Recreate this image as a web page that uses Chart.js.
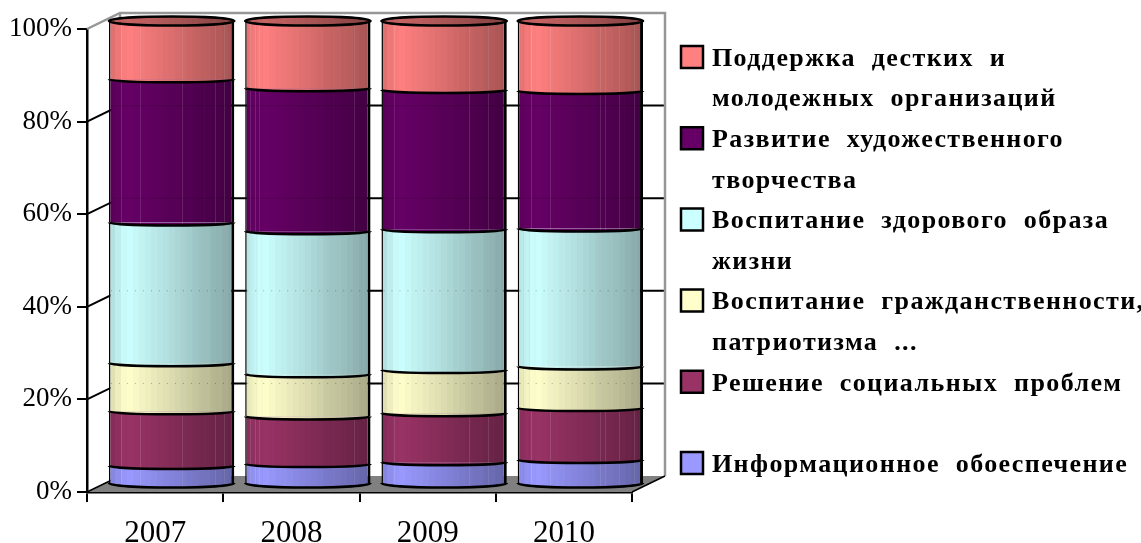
<!DOCTYPE html>
<html>
<head>
<meta charset="utf-8">
<style>
  html, body { margin: 0; padding: 0; background: #fff; }
  canvas { display: block; }
</style>
<script src="https://cdn.jsdelivr.net/npm/chart.js@4"></script>
</head>
<body>
<canvas id="grafico" width="1141" height="543"></canvas>
<script>
const years = ["2007", "2008", "2009", "2010"];
const yTicks = [0, 20, 40, 60, 80, 100];

// bottom to top of the stack
const info = [3.9, 4.3, 4.7, 5.2];
const social = [11.8, 10.3, 10.6, 11.2];
const civic = [10.4, 9.1, 9.3, 9.0];
const health = [30.4, 30.9, 30.4, 29.8];
const art = [30.9, 30.9, 30.1, 29.7];
const support = [12.6, 14.5, 14.9, 15.1];

const seriesValues = [info, social, civic, health, art, support];
const seriesColors = ["#9999FF", "#993366", "#FFFFCC", "#CCFFFF", "#660066", "#FF8080"];

// top to bottom, as in the legend
const legendLines = [
  ["Поддержка дестких и", "молодежных организаций"],
  ["Развитие художественного", "творчества"],
  ["Воспитание здорового образа", "жизни"],
  ["Воспитание гражданственности,", "патриотизма ..."],
  ["Решение социальных проблем"],
  ["Информационное обоеспечение"]
];
const legendColors = ["#FF8080", "#660066", "#CCFFFF", "#FFFFCC", "#993366", "#9999FF"];

const depthX = 33, depthY = -16;          // back wall offset
const barX = 16.5, barY = -8;             // cylinders stand half way back
// thin light lines on the cylinder sides
const stripesOdd = [0.10, 0.25, 0.585, 0.70, 0.76, 0.85, 0.92];
const stripesEven = [0.04, 0.08, 0.11, 0.26, 0.66, 0.70, 0.81, 0.87, 0.93];

function rgb(hex) {
  return [1, 3, 5].map(i => parseInt(hex.substr(i, 2), 16));
}
function tint(hex, k, white) {
  const c = rgb(hex).map(v => Math.round(Math.min(255, v * k + (white || 0) * (255 - v))));
  return "rgb(" + c.join(",") + ")";
}
function shadeAt(t) {
  if (t < 0.12) return 0.88 + t;
  return 1 - (t - 0.12) * 0.4;
}

function cylinderFill(chart, index, hex, extra) {
  const xs = chart.scales.x;
  const w = xs.width / years.length * 0.92;
  const cx = xs.getPixelForValue(index);
  // the options are also resolved once before the layout is done
  if (!isFinite(cx) || !isFinite(w)) return hex;
  const g = chart.ctx.createLinearGradient(cx - w / 2, 0, cx + w / 2, 0);
  for (let i = 0; i <= 20; i++) {
    const a = i / 21, b = (i + 1) / 21;
    const col = tint(hex, shadeAt(a) * (extra || 1));
    g.addColorStop(a, col);
    g.addColorStop(b - 0.001, col);
  }
  if (!extra) {
    (index % 2 ? stripesEven : stripesOdd).forEach(f => {
      const base = tint(hex, shadeAt(f));
      const col = tint(hex, shadeAt(f), 0.13);
      g.addColorStop(f - 0.0005, base);
      g.addColorStop(f, col);
      g.addColorStop(f + 0.004, col);
      g.addColorStop(f + 0.0045, base);
    });
  }
  return g;
}

const backWall = {
  id: "backWall",
  beforeDatasetsDraw(chart) {
    const { ctx, chartArea: a, scales } = chart;
    const yb = a.bottom + depthY, yt = a.top + depthY;
    ctx.save();
    // floor
    ctx.fillStyle = "#808080";
    ctx.beginPath();
    ctx.moveTo(a.left, a.bottom);
    ctx.lineTo(a.left + depthX, yb);
    ctx.lineTo(a.right + depthX, yb);
    ctx.lineTo(a.right, a.bottom);
    ctx.closePath();
    ctx.fill();
    // grid lines on the wall and the side wall
    ctx.strokeStyle = "#000";
    ctx.lineWidth = 2;
    yTicks.forEach(t => {
      if (t === 0 || t === 100) return;
      const y = scales.y.getPixelForValue(t);
      ctx.beginPath();
      ctx.moveTo(a.left, y);
      ctx.lineTo(a.left + depthX, y + depthY);
      ctx.lineTo(a.right + depthX, y + depthY);
      ctx.stroke();
    });
    // wall frame
    ctx.strokeStyle = "#969696";
    ctx.lineWidth = 2.5;
    ctx.beginPath();
    ctx.moveTo(a.left, a.top);
    ctx.lineTo(a.left + depthX, yt);
    ctx.lineTo(a.right + depthX, yt);
    ctx.lineTo(a.right + depthX, yb);
    ctx.moveTo(a.left + depthX, yt);
    ctx.lineTo(a.left + depthX, yb);
    ctx.stroke();
    ctx.strokeStyle = "#000";
    ctx.lineWidth = 1.5;
    ctx.beginPath();
    ctx.moveTo(a.left, a.bottom);
    ctx.lineTo(a.left + depthX, yb);
    ctx.moveTo(a.right, a.bottom);
    ctx.lineTo(a.right + depthX, yb);
    ctx.stroke();
    ctx.restore();
    // the bars are drawn by the library, just moved back
    ctx.save();
    ctx.translate(barX, barY);
  },
  afterDatasetsDraw(chart) {
    const ctx = chart.ctx;
    years.forEach((y, i) => {
      seriesValues.forEach((vals, s) => {
        const bar = chart.getDatasetMeta(s).data[i];
        const hw = bar.width / 2;
        // lower rim bulges over the segment below
        ctx.beginPath();
        ctx.ellipse(bar.x, bar.base, hw, s === 0 ? 4.5 : 3, 0, 0, Math.PI);
        ctx.fillStyle = bar.options.backgroundColor;
        ctx.fill();
        ctx.lineWidth = 2.5;
        ctx.strokeStyle = "#000";
        ctx.stroke();
      });
      const top = chart.getDatasetMeta(seriesValues.length - 1).data[i];
      ctx.beginPath();
      ctx.ellipse(top.x, top.y, top.width / 2, 4.5, 0, 0, Math.PI * 2);
      ctx.fillStyle = cylinderFill(chart, i, seriesColors[5], 0.78);
      ctx.fill();
      ctx.lineWidth = 2.5;
      ctx.strokeStyle = "#000";
      ctx.stroke();
      // the back grid shows faintly through the cylinders
      yTicks.forEach(t => {
        if (t === 0 || t === 100) return;
        const gy = chart.scales.y.getPixelForValue(t) + depthY - barY;
        ctx.beginPath();
        ctx.moveTo(top.x - top.width / 2 + 2, gy);
        ctx.lineTo(top.x + top.width / 2 - 2, gy);
        ctx.setLineDash(t < 60 ? [1, 7] : []);
        ctx.lineWidth = 1;
        ctx.strokeStyle = t < 60 ? "rgba(0,0,0,0.3)" : "rgba(0,0,0,0.12)";
        ctx.stroke();
        ctx.setLineDash([]);
      });
    });
    ctx.restore();
  }
};

const sideLegend = {
  id: "sideLegend",
  afterDraw(chart) {
    const ctx = chart.ctx;
    ctx.save();
    ctx.font = "bold 26px 'Liberation Serif'";
    ctx.letterSpacing = "1.4px";
    ctx.wordSpacing = "8px";
    ctx.textBaseline = "middle";
    let row = 0;
    legendLines.forEach((lines, i) => {
      const y0 = 57 + row * 40.6;
      ctx.fillStyle = legendColors[i];
      ctx.strokeStyle = "#000";
      ctx.lineWidth = 2.5;
      ctx.beginPath();
      ctx.rect(681, y0 - 11, 22, 22);
      ctx.fill();
      ctx.stroke();
      ctx.fillStyle = "#000";
      lines.forEach((line, k) => {
        ctx.fillText(line, 712, y0 + 2 + k * 40.6);
      });
      row += 2;
    });
    ctx.restore();
  }
};

const conjuntos = seriesValues.map((vals, s) => ({
  label: legendLines[legendLines.length - 1 - s].join(" "),
  data: vals,
  stack: "a",
  backgroundColor: ctx => cylinderFill(ctx.chart, ctx.dataIndex, seriesColors[s]),
  borderColor: "#000",
  borderWidth: { left: 1.5, right: 3, top: 0, bottom: 0 },
  borderSkipped: false,
  categoryPercentage: 0.92,
  barPercentage: 1
}));

new Chart(document.getElementById("grafico"), {
  type: "bar",
  data: { labels: years, datasets: conjuntos },
  plugins: [backWall, sideLegend],
  options: {
    responsive: false,
    animation: false,
    layout: { padding: { top: 29, right: 509, bottom: 0, left: 0 } },
    plugins: { legend: { display: false }, tooltip: { enabled: false } },
    scales: {
      x: {
        stacked: true,
        afterFit(s) { s.height = 51; },
        grid: { drawOnChartArea: false, color: "#000", lineWidth: 2, tickLength: 10 },
        border: { color: "#000", width: 2.5 },
        ticks: { color: "#000", padding: 13, font: { family: "Liberation Serif", size: 31 } }
      },
      y: {
        stacked: true,
        min: 0,
        max: 100,
        afterFit(s) { s.width = 87; },
        afterBuildTicks(s) { s.ticks = yTicks.map(v => ({ value: v })); },
        grid: { drawOnChartArea: false, color: "#000", lineWidth: 2, tickLength: 10 },
        border: { color: "#000", width: 2.5 },
        ticks: {
          color: "#000",
          padding: 5,
          font: { family: "Liberation Serif", size: 27 },
          callback: v => v + "%"
        }
      }
    }
  }
});
</script>
</body>
</html>
